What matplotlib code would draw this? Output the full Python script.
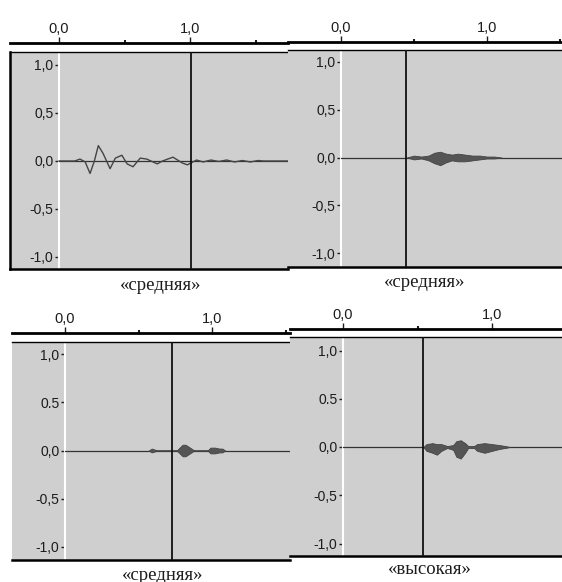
import matplotlib.pyplot as plt

plt.rcParams["font.family"] = ["Liberation Sans", "DejaVu Sans"]

W, H = 562, 582

# panel 1: single trace, time (s) and amplitude
wave1_t = [0.0, 0.12, 0.16, 0.20, 0.237, 0.27, 0.30, 0.336, 0.39, 0.43, 0.48, 0.52,
           0.565, 0.62, 0.67, 0.75, 0.79, 0.87, 0.94, 0.98, 1.05, 1.10, 1.16, 1.22,
           1.28, 1.34, 1.40, 1.46, 1.52, 1.56, 1.75]
wave1_v = [0.0, 0.0, 0.02, -0.01, -0.13, 0.0, 0.16, 0.08, -0.08, 0.03, 0.06, -0.03,
           -0.06, 0.03, 0.02, -0.03, 0.0, 0.04, -0.02, -0.04, 0.01, -0.01, 0.01, -0.005,
           0.01, -0.01, 0.005, -0.01, 0.005, 0.0, 0.0]

# panels 2-4: envelope of the dense trace (upper / lower)
wave2_t = [0.45, 0.50, 0.55, 0.60, 0.64, 0.68, 0.72, 0.76, 0.80, 0.85, 0.90, 0.95, 1.00, 1.05, 1.10]
wave2_hi = [0.0, 0.02, 0.01, 0.02, 0.05, 0.06, 0.04, 0.03, 0.04, 0.03, 0.02, 0.02, 0.01, 0.01, 0.0]
wave2_lo = [0.0, -0.02, -0.01, -0.03, -0.06, -0.08, -0.05, -0.03, -0.04, -0.04, -0.03, -0.02, -0.01, -0.01, 0.0]

wave3_t = [0.57, 0.59, 0.61, 0.63, 0.76, 0.78, 0.80, 0.82, 0.84, 0.86, 0.88, 0.97, 0.99, 1.02, 1.05, 1.07, 1.09]
wave3_hi = [0.0, 0.02, 0.01, 0.0, 0.0, 0.03, 0.06, 0.06, 0.04, 0.02, 0.0, 0.0, 0.03, 0.03, 0.02, 0.02, 0.0]
wave3_lo = [0.0, -0.02, -0.01, 0.0, 0.0, -0.03, -0.06, -0.06, -0.04, -0.02, 0.0, 0.0, -0.03, -0.03, -0.02, -0.02, 0.0]

wave4_t = [0.54, 0.56, 0.60, 0.63, 0.66, 0.70, 0.74, 0.76, 0.79, 0.82, 0.84, 0.88, 0.90, 0.95, 1.00, 1.05, 1.09, 1.12]
wave4_hi = [0.0, 0.03, 0.04, 0.03, 0.03, 0.01, 0.02, 0.06, 0.07, 0.04, 0.01, 0.01, 0.03, 0.04, 0.03, 0.02, 0.01, 0.0]
wave4_lo = [0.0, -0.04, -0.06, -0.08, -0.04, -0.01, -0.03, -0.10, -0.12, -0.06, -0.01, -0.01, -0.04, -0.06, -0.04, -0.02, -0.01, 0.0]

cursors = [1.01, 0.445, 0.73, 0.54]
captions = ["«средняя»", "«средняя»", "«средняя»", "«высокая»"]
xtick_vals = [0.0, 1.0]
xtick_labels = ["0,0", "1,0"]
ytick_vals = [-1.0, -0.5, 0.0, 0.5, 1.0]
ytick_labels_top = ["-1,0", "-0,5", "0,0", "0,5", "1,0"]
ytick_labels_bot = ["-1,0", "-0,5", "0,0", "0.5", "1,0"]

# layout in pixels: box (left, top, right, bottom), x of t=0, px per s,
# y of v=0, px per unit, ruler y, caption centre
panels = [
    dict(box=(10, 52, 288, 269), t0=59, ts=131, v0=161, vs=96, ruler=43, frame=True, cap=(161, 286)),
    dict(box=(288, 50, 562, 267), t0=341, ts=146, v0=157.5, vs=96, ruler=42, frame=False, cap=(425, 282)),
    dict(box=(12, 342, 290, 560), t0=65, ts=147, v0=450.5, vs=96.5, ruler=333, frame=False, cap=(163, 575)),
    dict(box=(290, 337, 562, 556), t0=343, ts=149, v0=447, vs=96.5, ruler=329, frame=False, cap=(430, 570)),
]

fig = plt.figure(figsize=(W / 100, H / 100), dpi=100)
fig.patch.set_facecolor("white")
ink = "#1c1c1c"

for i, p in enumerate(panels):
    l, t, r, b = p["box"]
    ax = fig.add_axes([l / W, 1 - b / H, (r - l) / W, (b - t) / H])
    ax.set_facecolor("#cfcfcf")
    ax.set_xlim((l - p["t0"]) / p["ts"], (r - p["t0"]) / p["ts"])
    ax.set_ylim((p["v0"] - b) / p["vs"], (p["v0"] - t) / p["vs"])
    ax.set_xticks([])
    ax.set_yticks([])
    for s in ["left", "right", "top", "bottom"]:
        ax.spines[s].set_visible(False)
    ax.spines["top"].set_visible(True)
    ax.spines["top"].set_linewidth(1.0)
    ax.spines["bottom"].set_visible(True)
    ax.spines["bottom"].set_linewidth(1.8)
    if p["frame"]:
        ax.spines["left"].set_visible(True)
        ax.spines["left"].set_linewidth(1.8)

    # white separator at t=0 with the amplitude scale
    y_frac = (p["t0"] - l) / (r - l)
    sy = ax.secondary_yaxis(y_frac)
    sy.spines["left"].set_color("white")
    sy.spines["left"].set_linewidth(1.5)
    sy.set_yticks(ytick_vals)
    sy.set_yticklabels(ytick_labels_top if i < 2 else ytick_labels_bot)
    sy.tick_params(axis="y", length=3, width=1, color=ink, labelcolor=ink,
                   labelsize=10, pad=1)

    # time ruler above the panel
    x_frac = (b - p["ruler"]) / (b - t)
    sx = ax.secondary_xaxis(x_frac)
    sx.spines["top"].set_linewidth(2.0)
    sx.set_xticks(xtick_vals)
    sx.set_xticklabels(xtick_labels)
    sx.set_xticks([0.5, 1.5], minor=True)
    sx.tick_params(axis="x", which="major", length=4, width=1, color=ink,
                   labelcolor=ink, labelsize=10.5, pad=1)
    sx.tick_params(axis="x", which="minor", length=2, width=1.5, color=ink)

    ax.axhline(0, xmin=y_frac, color="#333333", lw=0.9, zorder=2)
    ax.axvline(cursors[i], color="#111111", lw=1.3, zorder=4)

    if i == 0:
        ax.plot(wave1_t, wave1_v, color="#444444", lw=1.0, zorder=3)
    else:
        tt, hi, lo = [(wave2_t, wave2_hi, wave2_lo),
                      (wave3_t, wave3_hi, wave3_lo),
                      (wave4_t, wave4_hi, wave4_lo)][i - 1]
        ax.fill_between(tt, lo, hi, color="#555555", lw=0.6, edgecolor="#444444", zorder=3)

    cx, cy = p["cap"]
    fig.text(cx / W, 1 - cy / H, captions[i], ha="center", va="center",
             family="Liberation Serif", fontsize=13.5, color=ink)

fig.savefig("out.png", dpi=100)
